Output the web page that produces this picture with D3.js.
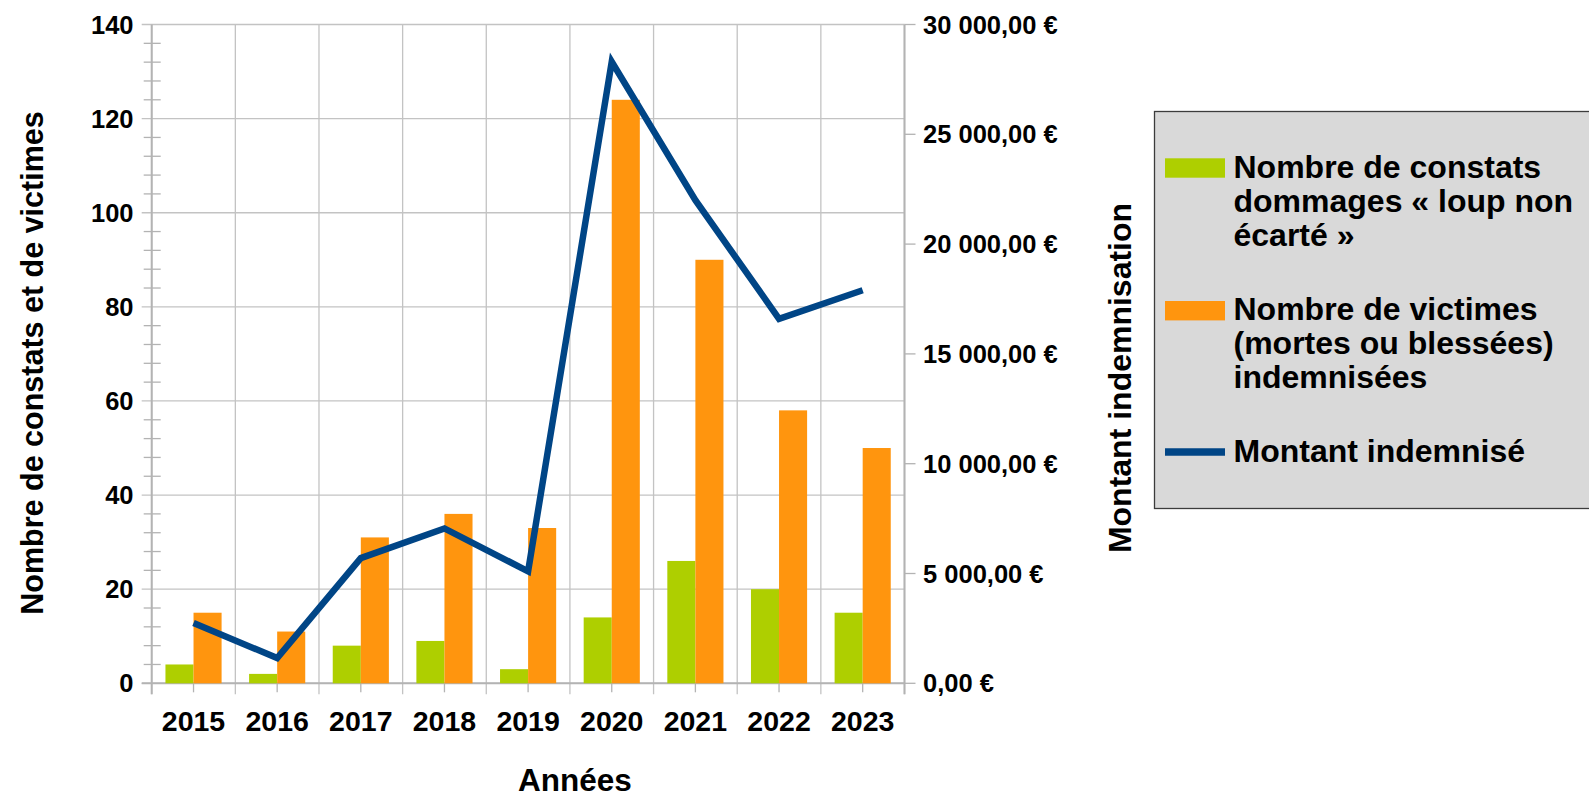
<!DOCTYPE html>
<html>
<head>
<meta charset="utf-8">
<script src="https://cdn.jsdelivr.net/npm/d3@7"></script>
<style>
  body { margin: 0; background: #fff; }
  text { font-family: "Liberation Sans", Arial, sans-serif; font-weight: bold; fill: #000; }
</style>
</head>
<body>
<div id="container"></div>
<script>
// data
let years = ["2015", "2016", "2017", "2018", "2019", "2020", "2021", "2022", "2023"];
let constats = [4, 2, 8, 9, 3, 14, 26, 20, 15];
let victimes = [15, 11, 31, 36, 33, 124, 90, 58, 50];
let montant = [2750, 1150, 5700, 7050, 5100, 28300, 22000, 16600, 17900];

let leftTicks = [0, 20, 40, 60, 80, 100, 120, 140];
let rightTicks = [0, 5000, 10000, 15000, 20000, 25000, 30000];

let seriesNames = ["constats", "victimes"];
let legendLabels = [
  ["Nombre de constats", "dommages « loup non", "écarté »"],
  ["Nombre de victimes", "(mortes ou blessées)", "indemnisées"],
  ["Montant indemnisé"]
];

let w = 1589;
let h = 799;

let plotLeft = 151.7, plotRight = 904.5, plotTop = 24.5, plotBottom = 683.3;

let viz = d3.select("#container")
  .append("svg")
    .attr("width", w)
    .attr("height", h)
    .style("background-color", "#fff")
;

let xScale = d3.scaleBand().domain(years).range([plotLeft, plotRight]);
let barScale = d3.scaleBand().domain(seriesNames).range([0, xScale.bandwidth()]).paddingOuter(0.49).paddingInner(0);
let yScale = d3.scaleLinear().domain([0, 140]).range([plotBottom, plotTop]);
let yRight = d3.scaleLinear().domain([0, 30000]).range([plotBottom, plotTop]);

let colors = { constats: "#aecf00", victimes: "#ff950e" };
let gridColor = "#c3c3c3";
let axisColor = "#b3b3b3";

let euro = d3.formatLocale({
  decimal: ",", thousands: " ", grouping: [3], currency: ["", " €"]
}).format("$,.2f");

// horizontal grid lines (they run into the major ticks on the left)
viz.selectAll(".hgrid").data(leftTicks).enter()
  .append("line")
    .attr("class", "hgrid")
    .attr("x1", plotLeft - 10)
    .attr("x2", plotRight)
    .attr("y1", d => yScale(d))
    .attr("y2", d => yScale(d))
    .attr("stroke", gridColor)
    .attr("stroke-width", 1.3)
;

// vertical grid lines at category boundaries, extending as ticks below the axis
let bounds = years.map(d => xScale(d)).concat([plotRight]);
viz.selectAll(".vgrid").data(bounds).enter()
  .append("line")
    .attr("class", "vgrid")
    .attr("x1", d => d)
    .attr("x2", d => d)
    .attr("y1", plotTop)
    .attr("y2", plotBottom + 11)
    .attr("stroke", gridColor)
    .attr("stroke-width", 1.3)
;

// minor ticks on the left axis
let minor = d3.range(0, 141, 4).filter(d => d % 20 != 0);
viz.selectAll(".minor").data(minor).enter()
  .append("line")
    .attr("x1", plotLeft - 8)
    .attr("x2", plotLeft + 9)
    .attr("y1", d => yScale(d))
    .attr("y2", d => yScale(d))
    .attr("stroke", axisColor)
    .attr("stroke-width", 1.3)
;

// small ticks under each category centre
viz.selectAll(".ctick").data(years).enter()
  .append("line")
    .attr("x1", d => xScale(d) + xScale.bandwidth() / 2)
    .attr("x2", d => xScale(d) + xScale.bandwidth() / 2)
    .attr("y1", plotBottom)
    .attr("y2", plotBottom + 9)
    .attr("stroke", axisColor)
    .attr("stroke-width", 1.3)
;

// axis lines
viz.append("line").attr("x1", plotLeft).attr("x2", plotLeft).attr("y1", plotTop).attr("y2", plotBottom + 11)
  .attr("stroke", axisColor).attr("stroke-width", 2);
viz.append("line").attr("x1", plotRight).attr("x2", plotRight).attr("y1", plotTop).attr("y2", plotBottom + 11)
  .attr("stroke", axisColor).attr("stroke-width", 2);
viz.append("line").attr("x1", plotLeft - 10).attr("x2", plotRight).attr("y1", plotBottom).attr("y2", plotBottom)
  .attr("stroke", axisColor).attr("stroke-width", 2);

// right axis ticks
viz.selectAll(".rtick").data(rightTicks).enter()
  .append("line")
    .attr("x1", plotRight)
    .attr("x2", plotRight + 11)
    .attr("y1", d => yRight(d))
    .attr("y2", d => yRight(d))
    .attr("stroke", axisColor)
    .attr("stroke-width", 1.3)
;

// bars
let groups = viz.selectAll(".datagroup").data(years).enter()
  .append("g")
    .attr("class", "datagroup")
    .attr("transform", d => "translate(" + xScale(d) + ",0)")
;
groups.selectAll("rect").data((d, i) => seriesNames.map(s => ({ s: s, v: s == "constats" ? constats[i] : victimes[i] }))).enter()
  .append("rect")
    .attr("x", d => barScale(d.s))
    .attr("width", barScale.bandwidth())
    .attr("y", d => yScale(d.v))
    .attr("height", d => plotBottom - yScale(d.v))
    .attr("fill", d => colors[d.s])
;

// line
let line = d3.line()
  .x((d, i) => xScale(years[i]) + xScale.bandwidth() / 2)
  .y(d => yRight(d));
viz.append("path")
  .datum(montant)
  .attr("d", line)
  .attr("fill", "none")
  .attr("stroke", "#004586")
  .attr("stroke-width", 6.5)
;

// tick labels
viz.selectAll(".llabel").data(leftTicks).enter()
  .append("text")
    .attr("x", 133.5)
    .attr("y", d => yScale(d))
    .attr("dy", "0.36em")
    .attr("text-anchor", "end")
    .style("font-size", "25.5px")
    .text(d => d)
;
viz.selectAll(".rlabel").data(rightTicks).enter()
  .append("text")
    .attr("x", 923)
    .attr("y", d => yRight(d))
    .attr("dy", "0.36em")
    .style("font-size", "25.5px")
    .text(d => euro(d))
;
viz.selectAll(".xlabel").data(years).enter()
  .append("text")
    .attr("x", d => xScale(d) + xScale.bandwidth() / 2)
    .attr("y", 731)
    .attr("text-anchor", "middle")
    .style("font-size", "28.5px")
    .text(d => d)
;

// axis titles
viz.append("text")
  .attr("transform", "translate(43,363) rotate(-90)")
  .attr("text-anchor", "middle")
  .style("font-size", "30.5px")
  .text("Nombre de constats et de victimes");
viz.append("text")
  .attr("transform", "translate(1131,378) rotate(-90)")
  .attr("text-anchor", "middle")
  .style("font-size", "32px")
  .text("Montant indemnisation");
viz.append("text")
  .attr("x", 575)
  .attr("y", 791)
  .attr("text-anchor", "middle")
  .style("font-size", "31.5px")
  .text("Années");

// legend
let legend = viz.append("g");
legend.append("rect")
  .attr("x", 1154.5).attr("y", 111.5)
  .attr("width", 460).attr("height", 397)
  .attr("fill", "#d9d9d9")
  .attr("stroke", "#3c3c3c")
  .attr("stroke-width", 1.3);

let firstBase = [178.3, 320, 461.7];
legend.append("rect").attr("x", 1165).attr("y", 158.3).attr("width", 60).attr("height", 19.4).attr("fill", colors.constats);
legend.append("rect").attr("x", 1165).attr("y", 301).attr("width", 60).attr("height", 19.4).attr("fill", colors.victimes);
legend.append("line").attr("x1", 1165).attr("x2", 1225).attr("y1", 452).attr("y2", 452)
  .attr("stroke", "#004586").attr("stroke-width", 7.5);

legendLabels.forEach((lines, i) => {
  let t = legend.append("text")
    .attr("x", 1233.5)
    .attr("y", firstBase[i])
    .style("font-size", "32px");
  lines.forEach((l, j) => {
    t.append("tspan").attr("x", 1233.5).attr("dy", j == 0 ? 0 : 33.8).text(l);
  });
});
</script>
</body>
</html>
